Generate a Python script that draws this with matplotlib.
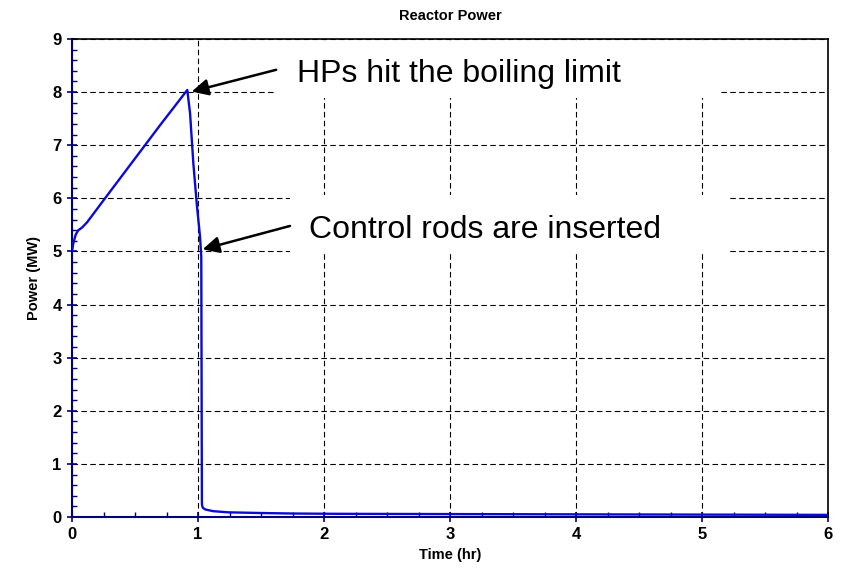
import matplotlib
matplotlib.use("Agg")
import matplotlib.pyplot as plt
from matplotlib.patches import Rectangle
from matplotlib.ticker import MultipleLocator

plt.rcParams['font.family'] = ['Liberation Sans', 'DejaVu Sans']

# Data
time_hr = [0.0, 0.01, 0.03, 0.05, 0.08, 0.12, 0.3, 0.5, 0.7, 0.915,
           0.937, 0.963, 0.99, 1.016, 1.026, 1.031, 1.033, 1.04, 1.06,
           1.12, 1.24, 1.5, 1.77, 2.1, 3.0, 4.0, 5.0, 6.0]
power_mw = [5.0, 5.15, 5.32, 5.4, 5.45, 5.55, 6.12, 6.75, 7.38, 8.04,
            7.6, 6.66, 5.9, 5.28, 4.9, 0.26, 0.21, 0.17, 0.14,
            0.11, 0.088, 0.075, 0.065, 0.06, 0.055, 0.05, 0.045, 0.04]

title = "Reactor Power"
xlabel = "Time (hr)"
ylabel = "Power (MW)"
note1 = "HPs hit the boiling limit"
note2 = "Control rods are inserted"

navy = '#000080'

fig = plt.figure(figsize=(8.51, 5.73), dpi=100)
ax = fig.add_axes([72/851, 1-517/573, (828-72)/851, (517-39)/573])

ax.set_xlim(0, 6)
ax.set_ylim(0, 9)
ax.xaxis.set_major_locator(MultipleLocator(1))
ax.xaxis.set_minor_locator(MultipleLocator(0.25))
ax.yaxis.set_major_locator(MultipleLocator(1))
ax.yaxis.set_minor_locator(MultipleLocator(0.2))

ax.grid(True, which='major', color='black', linestyle=(0, (5, 3)), linewidth=0.8, zorder=0)
ax.set_axisbelow(True)

# white text boxes covering grid
ax.add_patch(Rectangle((1.62, 7.89), 3.52, 1.07, facecolor='white', edgecolor='none', zorder=1))
ax.add_patch(Rectangle((1.73, 4.95), 3.49, 1.11, facecolor='white', edgecolor='none', zorder=1))

ax.plot(time_hr, power_mw, color='#0a0ad8', linewidth=1.7, zorder=3)

ax.text(1.786, 8.19, note1, fontsize=23, color='black', zorder=4, va='baseline', ha='left')
ax.text(1.88, 5.25, note2, fontsize=23, color='black', zorder=4, va='baseline', ha='left')

arrow_kw = dict(arrowstyle='-|>,head_length=1.0,head_width=0.5', color='black', lw=1.8,
                shrinkA=0, shrinkB=0)
ax.annotate('', xy=(0.95, 8.01), xytext=(1.62, 8.42), arrowprops=arrow_kw, zorder=4)
ax.annotate('', xy=(1.037, 5.04), xytext=(1.73, 5.48), arrowprops=arrow_kw, zorder=4)

for side in ['left', 'bottom']:
    ax.spines[side].set_color(navy)
    ax.spines[side].set_linewidth(1.5)
for side in ['top', 'right']:
    ax.spines[side].set_color('black')
    ax.spines[side].set_linewidth(1.2)

ax.tick_params(which='major', direction='inout', length=7, width=1.2, color=navy,
               labelsize=12, pad=4)
ax.tick_params(which='minor', direction='in', length=3.5, width=1, color=navy)
for lab in ax.get_xticklabels() + ax.get_yticklabels():
    lab.set_fontweight('bold')

ax.set_title(title, fontsize=10.5, fontweight='bold', pad=14)
ax.set_xlabel(xlabel, fontsize=10.5, fontweight='bold', labelpad=4)
ax.set_ylabel(ylabel, fontsize=10.5, fontweight='bold', labelpad=8)

fig.savefig('out.png', dpi=100, facecolor='white')
